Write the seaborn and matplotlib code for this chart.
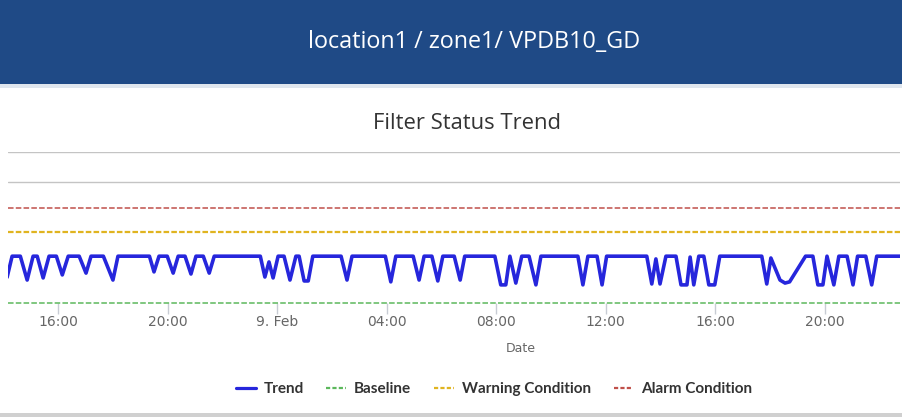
import matplotlib
matplotlib.use("Agg")
import matplotlib.pyplot as plt
import matplotlib.patches as mpatches
from matplotlib.lines import Line2D
import pandas as pd
import seaborn as sns

# ---------------- data ----------------
header_title = "location1 / zone1/ VPDB10_GD"
chart_title = "Filter Status Trend"
x_label = "Date"

trend_time = [
    "08 14:08", "08 14:19",
    "08 14:37", "08 14:52", "08 15:05",
    "08 15:14", "08 15:27", "08 15:40",
    "08 15:56", "08 16:09", "08 16:22",
    "08 16:46", "08 17:01", "08 17:12",
    "08 17:39", "08 18:00", "08 18:11",
    "08 19:20", "08 19:30", "08 19:41",
    "08 19:59", "08 20:12", "08 20:23",
    "08 20:38", "08 20:51", "08 21:02",
    "08 21:18", "08 21:31", "08 21:42",
    "08 23:23", "08 23:33", "08 23:42", "08 23:51", "09 00:02",
    "09 00:15", "09 00:28", "09 00:41",
    "09 00:48", "09 00:59", "09 01:08", "09 01:18",
    "09 02:20", "09 02:33", "09 02:44",
    "09 03:57", "09 04:09", "09 04:20",
    "09 04:58", "09 05:11", "09 05:22",
    "09 05:39", "09 05:52", "09 06:03",
    "09 06:28", "09 06:41", "09 06:51",
    "09 07:57", "09 08:10", "09 08:21", "09 08:30", "09 08:43", "09 08:56",
    "09 09:12", "09 09:27", "09 09:38",
    "09 10:59", "09 11:10", "09 11:21",
    "09 11:41", "09 11:52", "09 12:02",
    "09 13:30", "09 13:41", "09 13:50", "09 13:59", "09 14:12",
    "09 14:34", "09 14:45", "09 14:58", "09 15:05", "09 15:13", "09 15:24",
    "09 15:35", "09 15:46", "09 15:59", "09 16:10",
    "09 17:42", "09 17:53", "09 18:02", "09 18:22", "09 18:33", "09 18:43", "09 19:18",
    "09 19:34", "09 19:45", "09 19:56", "09 20:05", "09 20:20", "09 20:31",
    "09 20:49", "09 21:02", "09 21:12",
    "09 21:30", "09 21:43", "09 21:54",
    "09 22:45",
]
trend_value = [
    0.85, 1.55,
    1.55, 0.76, 1.55,
    1.55, 0.83, 1.55,
    1.55, 0.93, 1.55,
    1.55, 0.99, 1.55,
    1.55, 0.76, 1.55,
    1.55, 1.03, 1.55,
    1.55, 0.99, 1.55,
    1.55, 0.96, 1.55,
    1.55, 0.99, 1.55,
    1.55, 0.86, 1.36, 0.83, 1.55,
    1.55, 0.76, 1.55,
    1.55, 0.73, 0.73, 1.55,
    1.55, 0.76, 1.55,
    1.55, 0.70, 1.55,
    1.55, 0.76, 1.55,
    1.55, 0.73, 1.55,
    1.55, 0.76, 1.55,
    1.55, 0.60, 0.60, 1.55, 0.66, 1.55,
    1.55, 0.60, 1.55,
    1.55, 0.60, 1.55,
    1.55, 0.60, 1.55,
    1.55, 0.63, 1.46, 0.63, 1.55,
    1.55, 0.60, 0.60, 1.52, 0.60, 1.55,
    1.55, 0.60, 0.60, 1.55,
    1.55, 0.63, 1.49, 0.76, 0.66, 0.70, 1.55,
    1.55, 0.60, 0.60, 1.55, 0.60, 1.55,
    1.55, 0.60, 1.55,
    1.55, 0.60, 1.55,
    1.55,
]
baseline_value = 0.0
warning_value = 2.35
alarm_value = 3.15
grid_values = [4.0, 5.0]

x_start = "2024-02-08 14:10"
x_end = "2024-02-09 22:45"
tick_times = ["08 16:00", "08 20:00", "09 00:00", "09 04:00",
              "09 08:00", "09 12:00", "09 16:00", "09 20:00"]
tick_labels = ["16:00", "20:00", "9. Feb", "04:00", "08:00", "12:00", "16:00", "20:00"]

legend_labels = ["Trend", "Baseline", "Warning Condition", "Alarm Condition"]

# ---------------- styling ----------------
sns.set_theme(style="white")
plt.rcParams["font.family"] = ["DejaVu Sans"]
plt.rcParams["lines.scale_dashes"] = False

TREND_C = "#2626dc"
BASE_C = "#5cb85c"
WARN_C = "#e0b420"
ALARM_C = "#c0504a"
HEADER_C = "#1f4a86"

W, H = 902, 417
fig = plt.figure(figsize=(W / 100, H / 100), dpi=100)
fig.patch.set_facecolor("white")

# header band
fig.patches.append(mpatches.Rectangle((0, 1 - 84 / H), 1, 84 / H, transform=fig.transFigure,
                                      facecolor=HEADER_C, edgecolor="none", zorder=0))
fig.patches.append(mpatches.Rectangle((0, 1 - 88 / H), 1, 4 / H, transform=fig.transFigure,
                                      facecolor="#dfe6ee", edgecolor="none", zorder=0))
fig.patches.append(mpatches.Rectangle((0, 0), 1, 4 / H, transform=fig.transFigure,
                                      facecolor="#d0d0d0", edgecolor="none", zorder=0))

fig.text(474 / W, 1 - 42 / H, header_title, color="white", fontsize=16.8,
         family="Open Sans", ha="center", va="center")
fig.text(467 / W, 1 - 124 / H, chart_title, color="#333333", fontsize=15.8,
         family="Open Sans", ha="center", va="center")

ax = fig.add_axes([8 / W, 1 - 303 / H, 892 / W, 151 / H])
ax.set_facecolor("none")

df = pd.DataFrame({"time": pd.to_datetime(["2024-02-" + t for t in trend_time]),
                   "value": trend_value})

ax.axhline(alarm_value, color=ALARM_C, lw=1.1, dashes=(4.0, 1.6), clip_on=False, zorder=2)
ax.axhline(warning_value, color=WARN_C, lw=1.6, dashes=(4.0, 1.6), clip_on=False, zorder=2)
ax.axhline(baseline_value, color=BASE_C, lw=1.1, dashes=(4.0, 1.6), clip_on=False, zorder=2)
sns.lineplot(data=df, x="time", y="value", ax=ax, color=TREND_C, linewidth=2.6,
             legend=False, zorder=3)
ax.lines[-1].set_solid_joinstyle("round")
ax.lines[-1].set_solid_capstyle("round")

ax.set_xlim(pd.Timestamp(x_start), pd.Timestamp(x_end))
ax.set_ylim(0, 5)
ax.set_yticks(grid_values)
ax.yaxis.grid(True, color="#c4c4c4", lw=1.0)
ax.xaxis.grid(False)
ax.tick_params(axis="y", left=False, labelleft=False)
for s in ax.spines.values():
    s.set_visible(False)

ax.set_xticks(pd.to_datetime(["2024-02-" + t for t in tick_times]))
ax.set_xticklabels(tick_labels)
ax.tick_params(axis="x", bottom=True, length=8, width=1, color="#c8ccd4",
               labelsize=10, labelcolor="#666666", pad=0.5)
ax.set_xlabel("")
ax.set_ylabel("")

fig.text(521 / W, 1 - 349 / H, x_label, color="#666666", fontsize=9,
         ha="center", va="center")

handles = [
    Line2D([], [], color=TREND_C, lw=2.3),
    Line2D([], [], color=BASE_C, lw=1.6, dashes=(3.0, 1.6)),
    Line2D([], [], color=WARN_C, lw=1.6, dashes=(3.0, 1.6)),
    Line2D([], [], color=ALARM_C, lw=1.6, dashes=(3.0, 1.6)),
]
leg = fig.legend(handles, legend_labels, loc="center", ncol=4,
                 bbox_to_anchor=(494 / W, 1 - 389 / H), frameon=False,
                 handlelength=1.3, handletextpad=0.5, columnspacing=1.5,
                 prop={"family": "Lato", "weight": "bold", "size": 11})
for t in leg.get_texts():
    t.set_color("#333333")

fig.savefig("out.png", dpi=100, facecolor="white")
